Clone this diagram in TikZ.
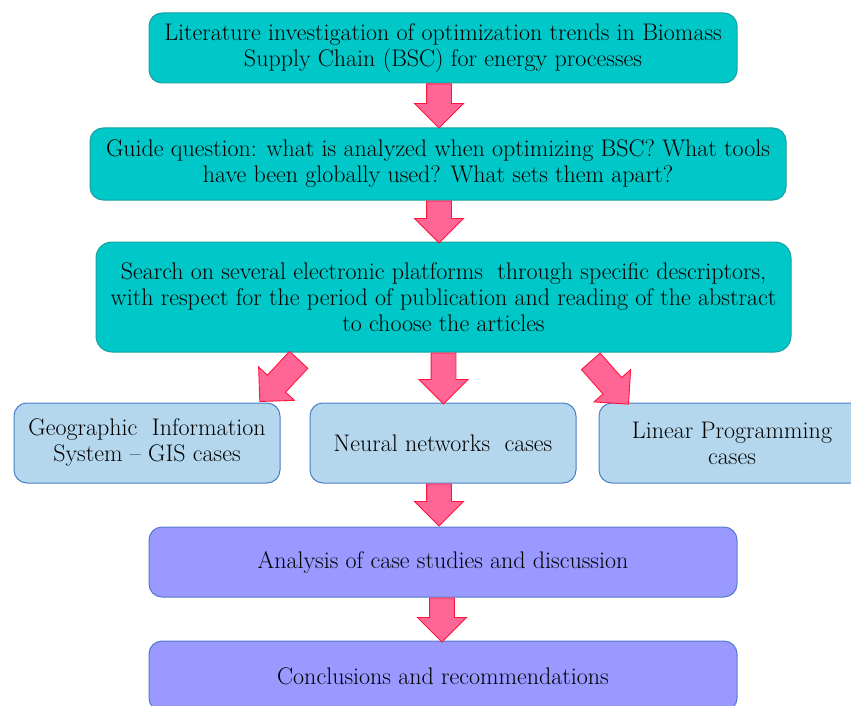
\documentclass[tikz,border=0pt]{standalone}
\usetikzlibrary{shapes.arrows,calc}
\definecolor{tealfill}{RGB}{0,200,200}
\definecolor{tealdraw}{RGB}{24,160,160}
\definecolor{bluefill}{RGB}{180,215,238}
\definecolor{bluedraw}{RGB}{74,126,200}
\definecolor{purpfill}{RGB}{153,153,255}
\definecolor{purpdraw}{RGB}{84,122,208}
\definecolor{arrfill}{RGB}{255,102,150}
\definecolor{arrdraw}{RGB}{255,20,60}
\tikzset{
  box/.style={rectangle, rounded corners=13pt, line width=1pt, align=center, inner sep=0pt,
    font=\fontsize{24}{26}\selectfont},
  tealbox/.style={box, fill=tealfill, draw=tealdraw},
  bluebox/.style={box, fill=bluefill, draw=bluedraw, minimum width=266pt, minimum height=80pt},
  purpbox/.style={box, fill=purpfill, draw=purpdraw, minimum width=588pt, minimum height=70pt},
  blockarrow/.style={single arrow, fill=arrfill, draw=arrdraw, line width=0.9pt, anchor=tail,
    inner xsep=0pt, inner ysep=12pt, single arrow head extend=12pt, single arrow tip angle=90},
}
\begin{document}
\begin{tikzpicture}[x=1pt,y=1pt]
\useasboundingbox (0,0) rectangle (851,-706);
\clip (0,0) rectangle (851,-706);
% boxes
\node[tealbox, minimum width=588pt, minimum height=70pt] (b1) at (443,-48)
  {Literature investigation of optimization trends in Biomass\\ Supply Chain (BSC) for energy processes};
\node[tealbox, minimum width=696pt, minimum height=72pt] (b2) at (438,-164)
  {Guide question: what is analyzed when optimizing BSC? What tools\\ have been globally used? What sets them apart?};
\node[tealbox, minimum width=695pt, minimum height=110pt, rounded corners=16pt] (b3) at (443.5,-297)
  {Search on several electronic platforms \ through specific descriptors,\\ with respect for the period of publication and reading of the abstract\\ to choose the articles};
\node[bluebox] (gis) at (147,-443) {Geographic \ Information\\ System -- GIS cases};
\node[bluebox] (nn) at (443,-443) {Neural networks \ cases};
\node[bluebox] (lp) at (732,-443) {Linear Programming\\ cases};
\node[purpbox] (an) at (443,-562) {Analysis of case studies and discussion};
\node[purpbox] (cr) at (443,-676) {Conclusions and recommendations};
% connectors (block arrows starting at the lower box edge)
\node[blockarrow, minimum height=44pt, rotate=-90] (a1) at ($(b1.south)+(-4,0)$) {};
\node[blockarrow, minimum height=42pt, rotate=-90] (a2) at ($(b2.south)+(1,0)$) {};
\node[blockarrow, minimum height=51pt, rotate=-90] (a3) at (b3.south) {};
\node[blockarrow, minimum height=57pt, rotate=227] (a4) at ($(b3.south)+(-144.5,-7)$) {};
\node[blockarrow, minimum height=57pt, rotate=-48.6] (a5) at ($(b3.south)+(147,-8.5)$) {};
\node[blockarrow, minimum height=42pt, rotate=-90] (a6) at ($(nn.south)+(-4,0)$) {};
\node[blockarrow, minimum height=44pt, rotate=-90] (a7) at ($(an.south)+(-1,0)$) {};
\end{tikzpicture}
\end{document}
